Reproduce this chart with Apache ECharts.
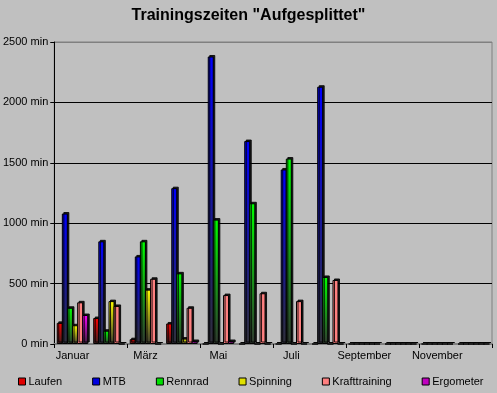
<!DOCTYPE html>
<html><head><meta charset="utf-8">
<script src="https://cdn.jsdelivr.net/npm/echarts@6/dist/echarts.min.js"></script>
<style>html,body{margin:0;padding:0;background:#c0c0c0;}#c{width:497px;height:393px;}</style>
</head><body><div id="c"></div>
<script>
var months = ['Januar','Februar','März','April','Mai','Juni','Juli','August','September','Oktober','November','Dezember'];
var laufen = [175, 215, 40, 170, 0, 0, 0, 0, 0, 0, 0, 0];
var mtb = [1080, 850, 725, 1290, 2380, 1680, 1445, 2130, 0, 0, 0, 0];
var rennrad = [300, 110, 850, 585, 1030, 1165, 1535, 555, 0, 0, 0, 0];
var spinning = [155, 355, 450, 45, 0, 0, 0, 0, 0, 0, 0, 0];
var kraft = [345, 315, 540, 300, 405, 420, 355, 530, 0, 0, 0, 0];
var ergometer = [240, 0, 0, 25, 25, 0, 0, 0, 0, 0, 0, 0];
var yTicks = [0, 500, 1000, 1500, 2000, 2500];

var seriesDefs = [
  {name:'Laufen', data:laufen, top:'#ff0000', bottom:'#3a2020', legend:'#e00000'},
  {name:'MTB', data:mtb, top:'#0000ff', bottom:'#303038', legend:'#0000e0'},
  {name:'Rennrad', data:rennrad, top:'#00ff00', bottom:'#303830', legend:'#00e000'},
  {name:'Spinning', data:spinning, top:'#ffff00', bottom:'#383830', legend:'#e0e000'},
  {name:'Krafttraining', data:kraft, top:'#ff8080', bottom:'#ff8080', legend:'#ff8080'},
  {name:'Ergometer', data:ergometer, top:'#ff00ff', bottom:'#382038', legend:'#c000c0'}
];

var chart = echarts.init(document.getElementById('c'), null, {renderer:'canvas'});
var font = 'Liberation Sans, Arial, sans-serif';
chart.setOption({
  backgroundColor:'#c0c0c0',
  animation:false,
  title:{text:'Trainingszeiten "Aufgesplittet"', left:'center', top:3,
    textStyle:{fontFamily:font, fontSize:16, fontWeight:'bold', color:'#000'}},
  legend:{top:376, left:18, width:479, orient:'horizontal', itemWidth:7, itemHeight:7, itemGap:30, icon:'rect', padding:0,
    textStyle:{fontFamily:font, fontSize:11, color:'#000', padding:[0,0,0,-2]},
    data: seriesDefs.map(function(s){return {name:s.name, itemStyle:{color:s.legend, borderColor:'#000', borderWidth:1}};})},
  grid:{left:52, right:5, top:42, bottom:49, show:true, borderColor:'#808080', borderWidth:1, backgroundColor:'#c0c0c0'},
  xAxis:{type:'category', data:months,
    axisLine:{lineStyle:{color:'#808080', width:2}},
    axisTick:{show:true, lineStyle:{color:'#000'}, length:4},
    axisLabel:{interval:1, fontFamily:font, fontSize:11, color:'#000', margin:6}},
  yAxis:{type:'value', min:yTicks[0], max:yTicks[yTicks.length-1], interval:500,
    axisLine:{show:true, lineStyle:{color:'#000'}},
    axisTick:{show:true, length:4, lineStyle:{color:'#000'}},
    axisLabel:{formatter:function(v){return v + ' min';}, fontFamily:font, fontSize:11, color:'#000', margin:6},
    splitLine:{show:true, lineStyle:{color:['#808080','#000','#000','#000','#000','#808080'], width:1}}},
  series: seriesDefs.map(function(s){
    return {name:s.name, type:'bar', data:s.data, barGap:'-15%', barWidth:6,
      itemStyle:{borderColor:'#000', borderWidth:1,
        color:new echarts.graphic.LinearGradient(0,0,0,1,[{offset:0,color:s.top},{offset:1,color:s.bottom}]),
        shadowColor:'rgba(0,0,0,0.85)', shadowOffsetX:1.5, shadowOffsetY:-1.5, shadowBlur:0}};
  })
});
</script></body></html>
